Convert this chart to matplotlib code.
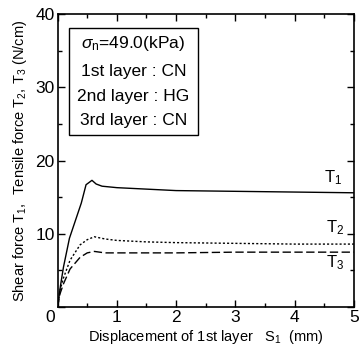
import matplotlib
matplotlib.use("Agg")
import matplotlib.pyplot as plt
from matplotlib.patches import Rectangle
from matplotlib.ticker import MultipleLocator, FuncFormatter

plt.rcParams['font.family'] = ['Liberation Sans', 'DejaVu Sans']
plt.rcParams['mathtext.fontset'] = 'custom'
plt.rcParams['mathtext.rm'] = 'Liberation Sans'
plt.rcParams['mathtext.it'] = 'Liberation Sans:italic'

# Shear force of 1st layer (T1)
s1 = [0, 0.05, 0.1, 0.2, 0.3, 0.4, 0.48, 0.58, 0.65, 0.75, 1.0, 1.5, 2.0, 3.0, 4.0, 5.0]
T1 = [0, 3.0, 5.5, 9.4, 11.8, 14.2, 16.7, 17.3, 16.8, 16.5, 16.3, 16.1, 15.9, 15.8, 15.7, 15.6]

# Tensile forces T2 and T3
s2 = [0, 0.04, 0.1, 0.21, 0.38, 0.5, 0.62, 0.8, 1.0, 1.5, 2.0, 3.0, 4.0, 5.0]
T2 = [0, 2.3, 4.0, 6.4, 8.5, 9.2, 9.6, 9.3, 9.1, 8.9, 8.8, 8.7, 8.6, 8.6]
T3 = [0, 1.8, 3.2, 5.2, 6.8, 7.4, 7.6, 7.4, 7.4, 7.4, 7.4, 7.5, 7.5, 7.5]

info = [r"$\sigma_{\rm n}$=49.0(kPa)", "1st layer : CN", "2nd layer : HG", "3rd layer : CN"]

fig = plt.figure(figsize=(3.6, 3.49), dpi=100)
ax = fig.add_axes([0.16, 0.12, 0.823, 0.84])

ax.plot(s1, T1, color="black", lw=1.0)
ax.plot(s2, T2, color="black", lw=1.0, linestyle=(0, (1.5, 1.5)))
ax.plot(s2, T3, color="black", lw=1.0, linestyle=(0, (6, 2.5)))

ax.set_xlim(0, 5)
ax.set_ylim(0, 40)
ax.xaxis.set_major_locator(MultipleLocator(1))
ax.xaxis.set_minor_locator(MultipleLocator(0.5))
ax.yaxis.set_major_locator(MultipleLocator(10))
ax.yaxis.set_minor_locator(MultipleLocator(5))
# the shared origin label is drawn once, below the corner
hide_zero = FuncFormatter(lambda v, p: "" if v == 0 else f"{v:g}")
ax.xaxis.set_major_formatter(hide_zero)
ax.yaxis.set_major_formatter(hide_zero)
ax.tick_params(which="both", direction="in", top=True, right=True, labelsize=12.5, pad=2)
ax.tick_params(which="major", length=5, width=1)
ax.tick_params(which="minor", length=3, width=1)
for sp in ax.spines.values():
    sp.set_linewidth(1.2)
ax.annotate("0", xy=(0, 0), xycoords=("data", "axes fraction"), xytext=(-5, -2),
            textcoords="offset points", ha="center", va="top", fontsize=12.5)

ax.set_xlabel(r"Displacement of 1st layer   S$_1$  (mm)", fontsize=10.5, labelpad=2)
ax.set_ylabel(r"Shear force T$_1$,  Tensile force T$_2$, T$_3$ (N/cm)", fontsize=10.5, labelpad=5)

ax.text(4.65, 17.6, r"T$_1$", fontsize=12, ha="center", va="center")
ax.text(4.68, 10.8, r"T$_2$", fontsize=12, ha="center", va="center")
ax.text(4.68, 6.0, r"T$_3$", fontsize=12, ha="center", va="center")

ax.add_patch(Rectangle((0.19, 23.5), 2.18, 14.6, fill=False, edgecolor="black", lw=1.0))
for yy, line in zip([36.0, 32.1, 28.7, 25.5], info):
    ax.text(1.28, yy, line, fontsize=12.5, ha="center", va="center")

fig.savefig("out.png", dpi=100)
